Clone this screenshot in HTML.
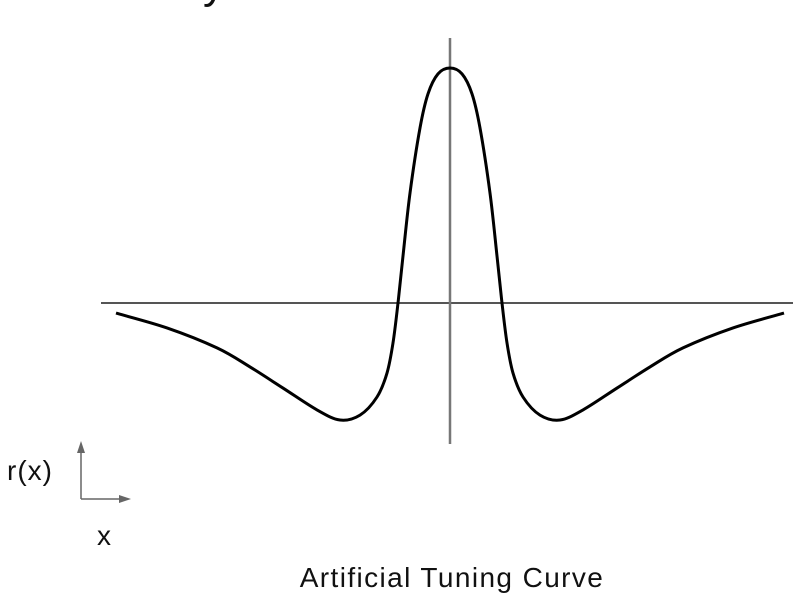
<!DOCTYPE html>
<html><head><meta charset="utf-8"><style>
html,body{margin:0;padding:0;background:#fff;width:809px;height:605px;overflow:hidden}
svg text{font-family:"Liberation Sans",sans-serif;fill:#111}
</style></head><body>
<svg id="chart" width="809" height="605" viewBox="0 0 809 605" xmlns="http://www.w3.org/2000/svg">
<text x="203" y="-2" font-size="44">y</text>
<line x1="101" y1="303" x2="793" y2="303" stroke="#555" stroke-width="2"/>
<line x1="450" y1="38" x2="450" y2="444" stroke="#777" stroke-width="2.5"/>
<g id="curve"></g>
<text x="7" y="480" font-size="28" letter-spacing="1">r(x)</text>
<line x1="81" y1="499" x2="81" y2="446" stroke="#666" stroke-width="1.5"/>
<polygon points="81,441 77,453 85,453" fill="#666"/>
<line x1="81" y1="499" x2="124" y2="499" stroke="#666" stroke-width="1.5"/>
<polygon points="131,499 119,495 119,503" fill="#666"/>
<text x="97" y="545" font-size="28">x</text>
<text x="452" y="587" font-size="28" letter-spacing="1.4" text-anchor="middle">Artificial Tuning Curve</text>
</svg>
<script>
const xs = [-334,-283,-233,-200,-167,-133,-110,-90,-73,-63,-57,-52,-47,-40,-30,-22,-12,0,12,22,30,40,47,52,57,63,73,90,110,133,167,200,233,283,334];
const rs = [-0.043,-0.106,-0.191,-0.272,-0.362,-0.455,-0.498,-0.477,-0.4,-0.298,-0.17,0,0.2,0.468,0.745,0.89,0.975,1,0.975,0.89,0.745,0.468,0.2,0,-0.17,-0.298,-0.4,-0.477,-0.498,-0.455,-0.362,-0.272,-0.191,-0.106,-0.043];
function sx(v){return 450+v;}
function sy(v){return 303-v*235;}
const P = xs.map((x,i)=>[sx(x),sy(rs[i])]);
let d = "M"+P[0][0]+","+P[0][1];
for(let i=0;i<P.length-1;i++){
  const p0=P[Math.max(0,i-1)],p1=P[i],p2=P[i+1],p3=P[Math.min(P.length-1,i+2)];
  const c1=[p1[0]+(p2[0]-p0[0])/6,p1[1]+(p2[1]-p0[1])/6];
  const c2=[p2[0]-(p3[0]-p1[0])/6,p2[1]-(p3[1]-p1[1])/6];
  d+=" C"+c1[0]+","+c1[1]+" "+c2[0]+","+c2[1]+" "+p2[0]+","+p2[1];
}
const path=document.createElementNS("http://www.w3.org/2000/svg","path");


path.setAttribute("d",d);
path.setAttribute("fill","none");
path.setAttribute("stroke","#000");
path.setAttribute("stroke-width","3");
document.getElementById("curve").appendChild(path);
</script>
</body></html>
